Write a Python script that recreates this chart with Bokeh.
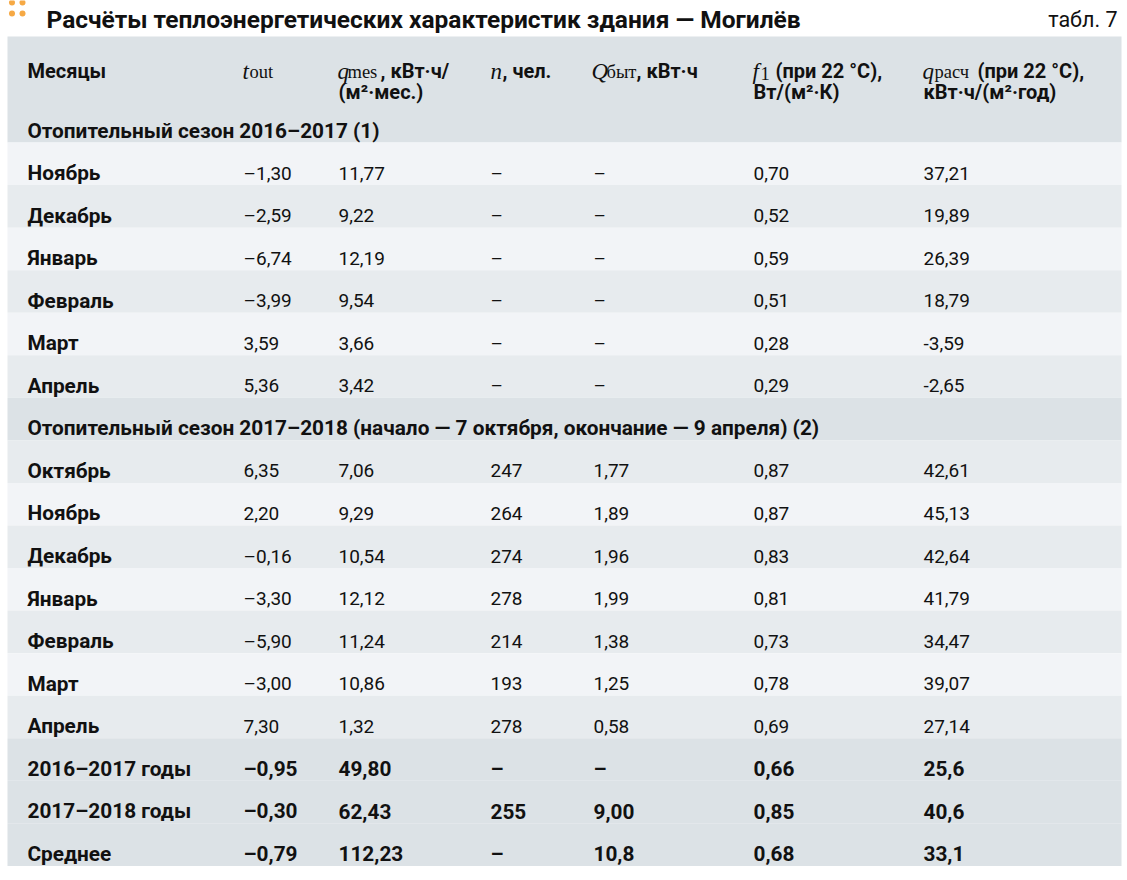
from bokeh.plotting import figure
from bokeh.models import Range1d, ColumnDataSource
from bokeh.core.properties import value
from bokeh.embed import file_html
from bokeh.resources import INLINE

# ---------------- data ----------------
title = "Расчёты теплоэнергетических характеристик здания — Могилёв"
table_no = "табл. 7"

season1_label = "Отопительный сезон 2016–2017 (1)"
season1_months = ["Ноябрь", "Декабрь", "Январь", "Февраль", "Март", "Апрель"]
season1_t_out = [-1.30, -2.59, -6.74, -3.99, 3.59, 5.36]
season1_q_mes = [11.77, 9.22, 12.19, 9.54, 3.66, 3.42]
season1_n = [None, None, None, None, None, None]
season1_Q_byt = [None, None, None, None, None, None]
season1_f1 = [0.70, 0.52, 0.59, 0.51, 0.28, 0.29]
season1_q_rasch = [37.21, 19.89, 26.39, 18.79, -3.59, -2.65]

season2_label = "Отопительный сезон 2017–2018 (начало — 7 октября, окончание — 9 апреля) (2)"
season2_months = ["Октябрь", "Ноябрь", "Декабрь", "Январь", "Февраль", "Март", "Апрель"]
season2_t_out = [6.35, 2.20, -0.16, -3.30, -5.90, -3.00, 7.30]
season2_q_mes = [7.06, 9.29, 10.54, 12.12, 11.24, 10.86, 1.32]
season2_n = [247, 264, 274, 278, 214, 193, 278]
season2_Q_byt = [1.77, 1.89, 1.96, 1.99, 1.38, 1.25, 0.58]
season2_f1 = [0.87, 0.87, 0.83, 0.81, 0.73, 0.78, 0.69]
season2_q_rasch = [42.61, 45.13, 42.64, 41.79, 34.47, 39.07, 27.14]

summary_labels = ["2016–2017 годы", "2017–2018 годы", "Среднее"]
summary_t_out = [-0.95, -0.30, -0.79]
summary_q_mes = [49.80, 62.43, 112.23]
summary_n = [None, 255, None]
summary_Q_byt = [None, 9.00, 10.8]
summary_Q_byt_dec = [2, 2, 1]
summary_f1 = [0.66, 0.85, 0.68]
summary_q_rasch = [25.6, 40.6, 33.1]

# ---------------- helpers ----------------
def fmt(v, d, minus="–"):
    if v is None:
        return "–"
    s = f"{abs(v):.{d}f}".replace(".", ",")
    return (minus + s) if v < 0 else s

SANS = value("Roboto")
SERIF = value("Liberation Serif")
C_HEAD = "#dce2e6"
C_LIGHT = "#f2f4f7"
C_DARK = "#e7ebee"
C_TEXT = "#111111"
BOLD_SZ = "20.8px"
REG_SZ = "19px"

W, H = 1122, 866
# data coordinates = page pixel coordinates (figure sits 8px below page top)
p = figure(width=W, height=H, x_range=Range1d(0, W), y_range=Range1d(8 + H, 8),
           output_backend="svg", toolbar_location=None, min_border=0)
p.axis.visible = False
p.grid.visible = False
p.outline_line_color = None
p.background_fill_color = "white"
p.border_fill_color = "white"

col_x = [27, 243, 338, 490, 593, 753, 923]
left, right = 7, 1121
head_top = 44.0
y0 = 107.5
rh = 42.55

# ---- build rows ----
rows = []
rows.append(("sec", [season1_label]))
for i in range(len(season1_months)):
    cells = [season1_months[i], fmt(season1_t_out[i], 2), fmt(season1_q_mes[i], 2),
             "–" if season1_n[i] is None else str(season1_n[i]), fmt(season1_Q_byt[i], 2),
             fmt(season1_f1[i], 2), fmt(season1_q_rasch[i], 2, minus="-")]
    rows.append(("light" if i % 2 == 0 else "dark", cells))
rows.append(("sec", [season2_label]))
for i in range(len(season2_months)):
    cells = [season2_months[i], fmt(season2_t_out[i], 2), fmt(season2_q_mes[i], 2),
             "–" if season2_n[i] is None else str(season2_n[i]), fmt(season2_Q_byt[i], 2),
             fmt(season2_f1[i], 2), fmt(season2_q_rasch[i], 2, minus="-")]
    rows.append(("dark" if i % 2 == 0 else "light", cells))
for i in range(len(summary_labels)):
    cells = [summary_labels[i], fmt(summary_t_out[i], 2), fmt(summary_q_mes[i], 2),
             "–" if summary_n[i] is None else str(summary_n[i]),
             fmt(summary_Q_byt[i], summary_Q_byt_dec[i]),
             fmt(summary_f1[i], 2), fmt(summary_q_rasch[i], 1)]
    rows.append(("sum", cells))

# backgrounds
tops, bots, cols = [head_top], [y0], [C_HEAD]
for k, (kind, _) in enumerate(rows):
    tops.append(y0 + k * rh)
    bots.append(y0 + (k + 1) * rh)
    cols.append({"sec": C_HEAD, "sum": C_HEAD, "light": C_LIGHT, "dark": C_DARK}[kind])
p.quad(left=left, right=right, top=tops, bottom=bots, fill_color=cols, line_color=None)

# texts
bold = dict(x=[], y=[], t=[])
reg = dict(x=[], y=[], t=[])
for k, (kind, cells) in enumerate(rows):
    yb = y0 + k * rh + 30.5
    for c, txt in enumerate(cells):
        is_bold = kind in ("sec", "sum") or c == 0
        target = bold if is_bold else reg
        target["x"].append(col_x[c]); target["y"].append(yb); target["t"].append(txt)

p.text(x="x", y="y", text="t", source=ColumnDataSource(bold), text_font=SANS,
       text_font_style="bold", text_font_size=BOLD_SZ, text_color=C_TEXT,
       text_baseline="alphabetic", text_align="left")
p.text(x="x", y="y", text="t", source=ColumnDataSource(reg), text_font=SANS,
       text_font_size=REG_SZ, text_color=C_TEXT,
       text_baseline="alphabetic", text_align="left")

# header
hb1, hb2 = 78.5, 99.0
hdr_bold = [(27, hb1, "Месяцы"), (380, hb1, ", кВт·ч/"), (338, hb2, "(м²·мес.)"),
            (502, hb1, ", чел."), (636, hb1, ", кВт·ч"),
            (775, hb1, "(при 22 °C),"), (753, hb2, "Вт/(м²·К)"),
            (977, hb1, "(при 22 °C),"), (923, hb2, "кВт·ч/(м²·год)")]
p.text(x=[a for a, b, c in hdr_bold], y=[b for a, b, c in hdr_bold], text=[c for a, b, c in hdr_bold],
       text_font=SANS, text_font_style="bold", text_font_size="20px", text_color=C_TEXT,
       text_baseline="alphabetic")
hdr_it = [(242, hb1, "t"), (337, hb1, "q"), (490, hb1, "n"), (591, hb1, "Q"),
          (752, hb1, "f"), (922, hb1, "q")]
p.text(x=[a for a, b, c in hdr_it], y=[b for a, b, c in hdr_it], text=[c for a, b, c in hdr_it],
       text_font=SERIF, text_font_style="italic", text_font_size="23px", text_color=C_TEXT,
       text_baseline="alphabetic")
hdr_sub = [(249, hb1 + 1, "out"), (347, hb1 + 1, "mes"), (606, hb1 + 1, "быт"),
           (760, hb1 + 2, "1"), (934, hb1 + 1, "расч")]
p.text(x=[a for a, b, c in hdr_sub], y=[b for a, b, c in hdr_sub], text=[c for a, b, c in hdr_sub],
       text_font=SERIF, text_font_size="18.5px", text_color=C_TEXT, text_baseline="alphabetic")

# title
p.scatter(x=[11.5, 22, 11.5, 22], y=[10, 10, 21, 21], size=6, marker="circle",
          fill_color="#f6a945", line_color=None)
p.text(x=[46], y=[27], text=[title], text_font=SANS, text_font_style="bold",
       text_font_size="24.5px", text_color=C_TEXT, text_baseline="alphabetic")
p.text(x=[1117], y=[27], text=[table_no], text_font=SANS, text_font_size="21.5px",
       text_color=C_TEXT, text_baseline="alphabetic", text_align="right")

open("out.html", "w").write(file_html(p, INLINE))
